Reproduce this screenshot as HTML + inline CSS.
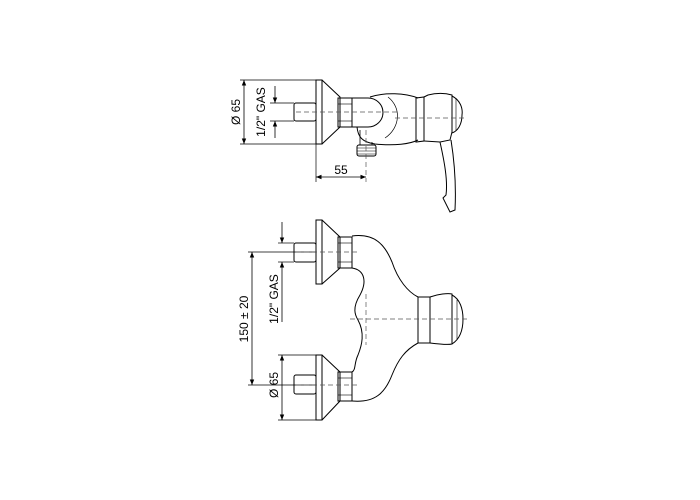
<!DOCTYPE html>
<html><head><meta charset="utf-8"><style>
html,body{margin:0;padding:0;background:#fff;}
svg{display:block;}
text{font-family:"Liberation Sans",sans-serif;font-size:12px;fill:#000;}
</style></head><body>
<svg width="700" height="500" viewBox="0 0 700 500" xmlns="http://www.w3.org/2000/svg">
<defs>
<marker id="a" viewBox="0 0 10 10" refX="10" refY="5" markerWidth="7" markerHeight="7" orient="auto-start-reverse"><path d="M0,1 L10,5 L0,9 z" fill="#000"/></marker>
</defs>
<g fill="none" stroke="#000" stroke-width="1">
<line x1="240" y1="80" x2="316" y2="80" stroke-width="0.7"/>
<line x1="240" y1="144" x2="316" y2="144" stroke-width="0.7"/>
<line x1="270" y1="103" x2="294" y2="103" stroke-width="0.7"/>
<line x1="270" y1="121" x2="294" y2="121" stroke-width="0.7"/>
<line x1="244" y1="80" x2="244" y2="144" marker-start="url(#a)" marker-end="url(#a)" stroke-width="0.8"/>
<line x1="275" y1="86" x2="275" y2="103" marker-end="url(#a)" stroke-width="0.8"/>
<line x1="275" y1="138" x2="275" y2="121" marker-end="url(#a)" stroke-width="0.8"/>
<rect x="294" y="103" width="22" height="18" rx="2"/>
<rect x="316" y="80" width="6" height="64"/>
<path d="M322,80 L340,97 L340,127 L322,144"/>
<rect x="338" y="98" width="14" height="29"/>
<line x1="338" y1="104" x2="352" y2="104" stroke-width="0.6"/>
<line x1="338" y1="121" x2="352" y2="121" stroke-width="0.6"/>
<path d="M352,98 L368,98 A15,14.5 0 0 1 368,127 L352,127"/>
<path d="M370,97 C385,92 405,93 418,98"/>
<path d="M357,127 C358,137 362,142 375,144 C395,146 410,144 418,140"/>
<path d="M388,97 C402,108 400,128 385,138" stroke-width="0.7"/>
<path d="M416,98 L424,97 L424,141 L416,142 Z"/>
<path d="M424,97 L428,95 C436,93 445,93 452,95 L452,132 L450,140 L440,142 C444,160 448,180 446,195 L443,198 L450,212 L455,210 C456,190 455,165 451,140"/>
<path d="M424,141 L440,142"/>
<path d="M452,96 C460,100 463,108 462,115 C462,124 458,131 452,133"/>
<line x1="456" y1="98" x2="456" y2="131" stroke-width="0.6"/>
<path d="M360,130 L360,145 M372,142 L372,145" stroke-width="0.8"/>
<rect x="357" y="145" width="19" height="11" rx="2"/>
<line x1="357" y1="148" x2="376" y2="148" stroke-width="0.5"/>
<line x1="357" y1="151" x2="376" y2="151" stroke-width="0.5"/>
<line x1="357" y1="154" x2="376" y2="154" stroke-width="0.5"/>
<line x1="296" y1="112" x2="400" y2="112" stroke-dasharray="5,3" stroke-width="0.7" stroke="#555"/>
<line x1="395" y1="118" x2="467" y2="118" stroke-dasharray="5,3" stroke-width="0.7" stroke="#555"/>
<line x1="366" y1="130" x2="366" y2="182" stroke-dasharray="5,3" stroke-width="0.7" stroke="#555"/>
<line x1="316" y1="144" x2="316" y2="182" stroke-width="0.7"/>
<line x1="316" y1="177" x2="366" y2="177" marker-start="url(#a)" marker-end="url(#a)" stroke-width="0.8"/>

<line x1="248" y1="252" x2="316" y2="252" stroke-width="0.7"/>
<line x1="248" y1="385" x2="316" y2="385" stroke-width="0.7"/>
<line x1="252" y1="252" x2="252" y2="385" marker-start="url(#a)" marker-end="url(#a)" stroke-width="0.8"/>
<line x1="278" y1="243" x2="294" y2="243" stroke-width="0.7"/>
<line x1="278" y1="262" x2="294" y2="262" stroke-width="0.7"/>
<line x1="282" y1="222" x2="282" y2="243" marker-end="url(#a)" stroke-width="0.8"/>
<line x1="282" y1="322" x2="282" y2="262" marker-end="url(#a)" stroke-width="0.8"/>
<line x1="278" y1="355" x2="316" y2="355" stroke-width="0.7"/>
<line x1="278" y1="420" x2="316" y2="420" stroke-width="0.7"/>
<line x1="282" y1="355" x2="282" y2="420" marker-start="url(#a)" marker-end="url(#a)" stroke-width="0.8"/>
<rect x="294" y="243" width="22" height="19" rx="2"/>
<rect x="316" y="220" width="6" height="64"/>
<path d="M322,220 L340,237 L340,268 L322,284"/>
<rect x="338" y="237" width="14" height="31"/>
<line x1="338" y1="243" x2="352" y2="243" stroke-width="0.6"/>
<line x1="338" y1="262" x2="352" y2="262" stroke-width="0.6"/>
<rect x="294" y="375" width="22" height="19" rx="2"/>
<rect x="316" y="355" width="6" height="65"/>
<path d="M322,355 L340,372 L340,401 L322,420"/>
<rect x="338" y="372" width="14" height="29"/>
<line x1="338" y1="378" x2="352" y2="378" stroke-width="0.6"/>
<line x1="338" y1="395" x2="352" y2="395" stroke-width="0.6"/>
<path d="M352,236 C375,233 385,245 392,262 C398,280 408,292 418,297"/>
<path d="M418,343 C405,350 398,360 392,375 C385,393 375,403 352,401"/>
<path d="M352,268 C365,270 367,282 360,295 C352,308 355,315 358,320 C365,333 362,345 358,355 C354,363 356,370 352,372"/>
<rect x="418" y="297" width="12" height="46"/>
<path d="M430,297 C438,294 448,293 452,294 L452,344 C448,345 438,344 430,343"/>
<path d="M452,295 C460,299 463,309 463,319 C463,330 460,339 452,344"/>
<line x1="457" y1="300" x2="457" y2="339" stroke-width="0.6"/>
<line x1="296" y1="252" x2="360" y2="252" stroke-dasharray="5,3" stroke-width="0.7" stroke="#555"/>
<line x1="296" y1="385" x2="360" y2="385" stroke-dasharray="5,3" stroke-width="0.7" stroke="#555"/>
<line x1="350" y1="319" x2="468" y2="319" stroke-dasharray="5,3" stroke-width="0.7" stroke="#555"/>
<line x1="366" y1="294" x2="366" y2="345" stroke-dasharray="5,3" stroke-width="0.7" stroke="#555"/>
</g>
<text x="341" y="174" text-anchor="middle">55</text>
<text transform="translate(240,112) rotate(-90)" text-anchor="middle">Ø 65</text>
<text transform="translate(265,112) rotate(-90)" text-anchor="middle">1/2" GAS</text>
<text transform="translate(248,319) rotate(-90)" text-anchor="middle">150 ± 20</text>
<text transform="translate(278,299) rotate(-90)" text-anchor="middle">1/2" GAS</text>
<text transform="translate(278,385) rotate(-90)" text-anchor="middle">Ø 65</text>
</svg>
</body></html>
